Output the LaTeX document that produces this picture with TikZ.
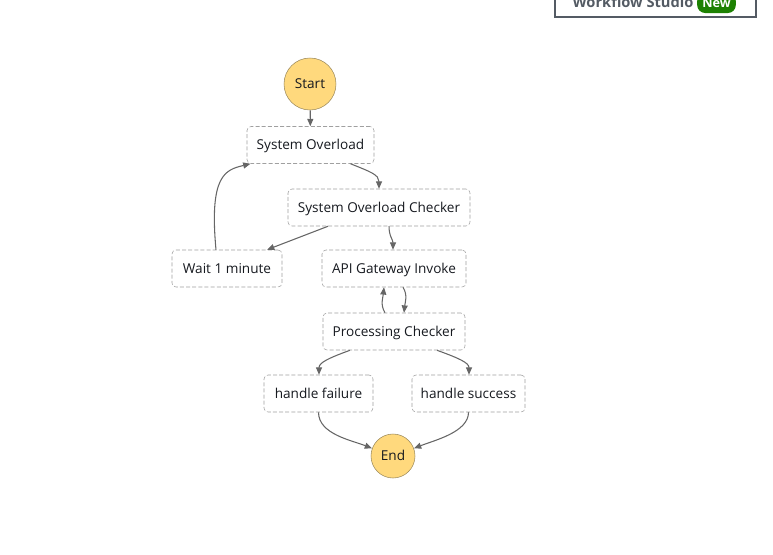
\documentclass[tikz,border=0pt]{standalone}
\usepackage{fontspec}
\setmainfont{Open Sans}
\usetikzlibrary{arrows.meta,calc}
\definecolor{termfill}{HTML}{FFD97D}
\definecolor{termdraw}{HTML}{9C8A5C}
\definecolor{boxgray}{HTML}{A0A0A0}
\definecolor{linegray}{HTML}{666666}
\definecolor{inkblack}{HTML}{16191F}
\definecolor{studiogray}{HTML}{545B64}
\definecolor{newgreen}{HTML}{1D8102}

\begin{document}
\begin{tikzpicture}[x=0.75pt,y=-0.75pt,
  state/.style={draw=boxgray,dashed,dash pattern=on 3pt off 1.6pt,rounded corners=3pt,
    minimum height=27.75pt,inner sep=0pt,text=inkblack,text height=8pt,text depth=1pt,
    font=\fontsize{10.2}{12}\selectfont},
  term/.style={circle,draw=termdraw,fill=termfill,inner sep=0pt,text=inkblack,
    text height=8pt,text depth=1pt,font=\fontsize{10.2}{12}\selectfont},
  flow/.style={draw=linegray,line width=0.8pt,-{Triangle[length=5.5pt,width=4.5pt]}}]
\useasboundingbox (0,0) rectangle (773,554);
\clip (0,0) rectangle (773,554);
% button at the top right, cut off by the page edge
\node[draw=studiogray,line width=0.8pt,minimum width=150.75pt,minimum height=20.25pt] (studio) at (655.5,3.5) {};
\node[anchor=base,text=studiogray,font=\bfseries\fontsize{11}{13}\selectfont] (studiotext) at (633,7) {Workflow Studio};
\node[fill=newgreen,rounded corners=6pt,minimum width=29pt,minimum height=15pt,inner sep=0pt,
  text=white,font=\bfseries\fontsize{9.5}{11}\selectfont] (newbadge) at (716.5,3) {New};
% states
\node[term,minimum size=39pt] (start) at (310,84) {Start};
\node[state,minimum width=95.25pt] (overload) at (310.5,145) {System Overload};
\node[state,minimum width=136.5pt] (checker) at (379,207.5) {System Overload Checker};
\node[state,minimum width=82.5pt] (wait) at (227,268.5) {Wait 1 minute};
\node[state,minimum width=108pt] (api) at (394,268.5) {API Gateway Invoke};
\node[state,minimum width=106.5pt] (proc) at (394,331.5) {Processing Checker};
\node[state,minimum width=81.75pt] (fail) at (318.5,393.5) {handle failure};
\node[state,minimum width=84.75pt] (succ) at (468.5,393.5) {handle success};
\node[term,minimum size=33pt] (end) at (393,456) {End};
% transitions
\draw[flow] (start) -- (overload);
\draw[flow] ($(overload.south)+(40,0)$) .. controls +(20,8) and +(0,-14) .. (checker.north);
\draw[flow] ($(checker.south)+(-51,0)$) -- ($(wait.north)+(40,0)$);
\draw[flow] ($(checker.south)+(10,0)$) .. controls +(0,10) and +(0,-10) .. ($(api.north)+(-1,0)$);
\draw[flow] ($(wait.north)+(-11,0)$) .. controls +(-7,-75) and +(-25,6) .. ($(overload.south)+(-60,0)$);
\draw[flow] ($(api.south)+(9,0)$) .. controls +(5,8) and +(1,-10) .. ($(proc.north)+(10,0)$);
\draw[flow] ($(proc.north)+(-9,0)$) .. controls +(-5,-8) and +(-1,10) .. ($(api.south)+(-10,0)$);
\draw[flow] ($(proc.south)+(-44,0)$) .. controls +(-22,8) and +(0,-12) .. ($(fail.north)+(0.5,0)$);
\draw[flow] ($(proc.south)+(43,0)$) .. controls +(22,8) and +(0,-12) .. ($(succ.north)+(0.5,0)$);
\draw[flow] (fail.south) .. controls +(0,22) and +(-20,-8) .. (end.160);
\draw[flow] (succ.south) .. controls +(0,20) and +(20,-8) .. (end.20);
\end{tikzpicture}
\end{document}
